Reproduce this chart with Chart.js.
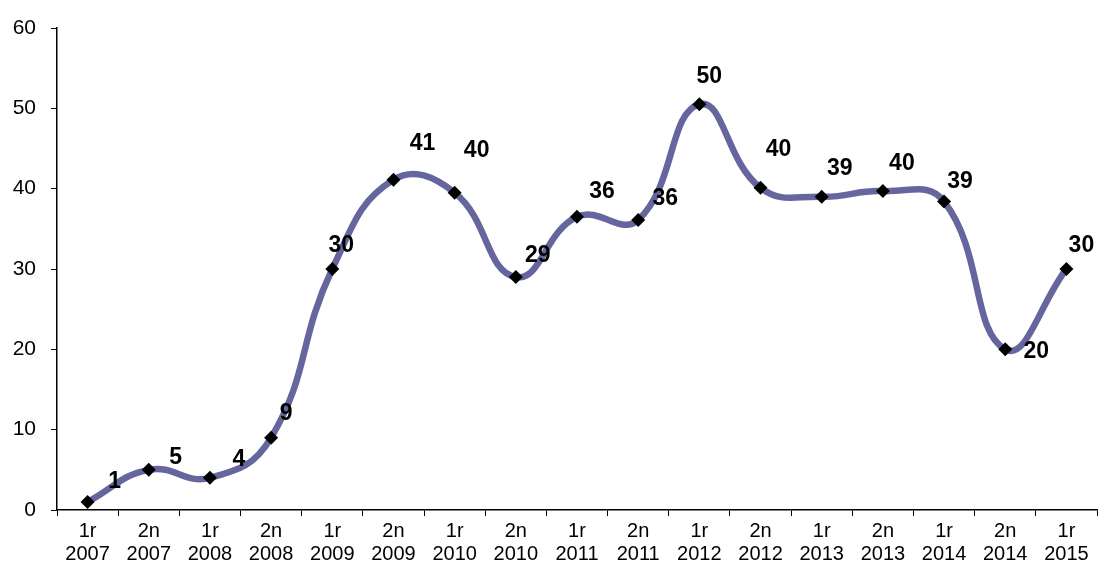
<!DOCTYPE html>
<html>
<head>
<meta charset="utf-8">
<script src="https://cdn.jsdelivr.net/npm/chart.js@4"></script>
<style>
  html, body { margin: 0; padding: 0; background: #fff; }
  #wrap { width: 1104px; height: 561px; }
</style>
</head>
<body>
<div id="wrap"><canvas id="grafik"></canvas></div>
<script>
// Categories (half-year periods)
const periodes = ['1r', '2n', '1r', '2n', '1r', '2n', '1r', '2n', '1r', '2n', '1r', '2n', '1r', '2n', '1r', '2n', '1r'];
const anys = ['2007', '2007', '2008', '2008', '2009', '2009', '2010', '2010', '2011', '2011', '2012', '2012', '2013', '2013', '2014', '2014', '2015'];

// Series values
const valors = [1, 5, 4, 9, 30, 41.1, 39.5, 29, 36.5, 36.1, 50.5, 40.1, 39, 39.7, 38.4, 20, 30];

// Printed labels
const etiquetes = ['1', '5', '4', '9', '30', '41', '40', '29', '36', '36', '50', '40', '39', '40', '39', '20', '30'];

// Label offsets from each point (pixels), as placed in the original
const desplX = [27, 27, 29, 15, 9, 29, 22, 22, 25, 27, 10, 18, 18, 19, 16, 31, 15];
const desplY = [-20, -12, -18, -24, -23, -36, -42, -21, -25, -21, -28, -38, -28, -27, -20, 2, -23];

const yTicks = [0, 10, 20, 30, 40, 50, 60];

const labels = periodes.map((p, i) => [p, anys[i]]);

// Data labels plugin
const etiquetesPlugin = {
    id: 'etiquetes',
    afterDatasetsDraw(chart) {
        const ctx = chart.ctx;
        const meta = chart.getDatasetMeta(0);
        ctx.save();
        ctx.font = 'bold 23px "Liberation Sans", Arial, sans-serif';
        ctx.fillStyle = '#000';
        ctx.textAlign = 'center';
        ctx.textBaseline = 'middle';
        meta.data.forEach((pt, i) => {
            ctx.fillText(etiquetes[i], pt.x + desplX[i], pt.y + desplY[i]);
        });
        ctx.restore();
    }
};

new Chart(document.getElementById('grafik'), {
    type: 'line',
    data: {
        labels: labels,
        datasets: [{
            data: valors,
            borderColor: '#66669f',
            borderWidth: 6.5,
            tension: 0.45,
            pointStyle: 'rectRot',
            pointRadius: 7,
            pointBackgroundColor: '#000',
            pointBorderColor: '#000',
            pointBorderWidth: 0,
            clip: false
        }]
    },
    options: {
        responsive: true,
        maintainAspectRatio: false,
        animation: false,
        devicePixelRatio: 1,
        layout: { padding: { top: 28, right: 0, left: 0, bottom: 0 } },
        plugins: {
            legend: { display: false },
            tooltip: { enabled: false }
        },
        scales: {
            x: {
                offset: true,
                grid: {
                    display: true,
                    offset: true,
                    drawOnChartArea: false,
                    drawTicks: true,
                    tickLength: 6,
                    color: '#000'
                },
                border: { display: true, color: '#000', width: 1.5 },
                ticks: {
                    color: '#000',
                    maxRotation: 0,
                    autoSkip: false,
                    padding: 4,
                    font: { family: '"Liberation Sans", Arial, sans-serif', size: 20, lineHeight: 1.15 }
                },
                afterFit(axis) { axis.height = 51; }
            },
            y: {
                min: 0,
                max: 60,
                afterBuildTicks(axis) { axis.ticks = yTicks.map(v => ({ value: v })); },
                grid: {
                    display: true,
                    drawOnChartArea: false,
                    drawTicks: true,
                    tickLength: 6,
                    color: '#000'
                },
                border: { display: true, color: '#000', width: 1.5 },
                ticks: {
                    color: '#000',
                    padding: 15,
                    font: { family: '"Liberation Sans", Arial, sans-serif', size: 21 }
                },
                afterFit(axis) { axis.width = 57; }
            }
        }
    },
    plugins: [etiquetesPlugin]
});
</script>
</body>
</html>
